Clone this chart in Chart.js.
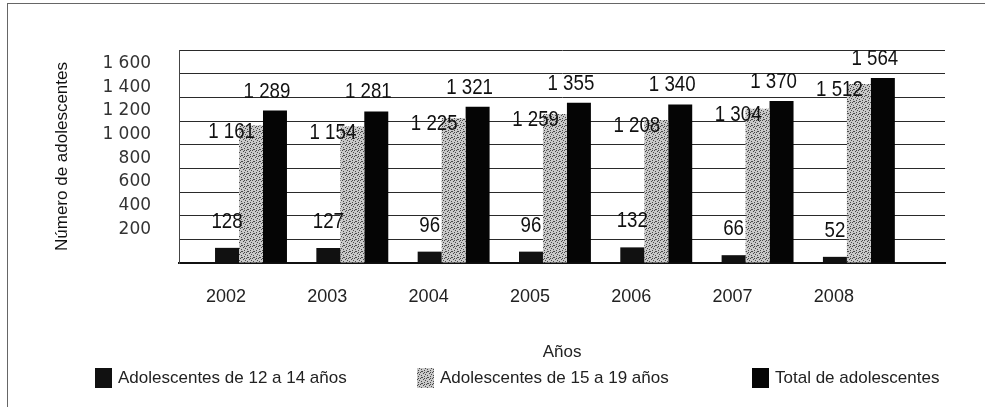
<!DOCTYPE html>
<html>
<head>
<meta charset="utf-8">
<script src="https://cdn.jsdelivr.net/npm/chart.js@4.4.1/dist/chart.umd.min.js"></script>
<style>
  html, body { margin: 0; padding: 0; background: #fff; }
  #marco { position: absolute; left: 7px; top: 3px; width: 978px; height: 404px; border-left: 1px solid #666; border-top: 1px solid #666; }
  #contenedor { position: absolute; left: 0; top: 0; width: 985px; height: 407px; }
</style>
</head>
<body>
<div id="marco"></div>
<div id="contenedor"><canvas id="grafico" width="985" height="407"></canvas></div>
<script>
const anios = [2002, 2003, 2004, 2005, 2006, 2007, 2008];
const adolescentes12a14 = [128, 127, 96, 96, 132, 66, 52];
const adolescentes15a19 = [1161, 1154, 1225, 1259, 1208, 1304, 1512];
const totalAdolescentes = [1289, 1281, 1321, 1355, 1340, 1370, 1564];
const marcasY = [200, 400, 600, 800, 1000, 1200, 1400, 1600];
const nombresSeries = ['Adolescentes de 12 a 14 años', 'Adolescentes de 15 a 19 años', 'Total de adolescentes'];

const fuente = '"Liberation Sans", Arial, sans-serif';

function formatoMiles(v) {
    if (v >= 1000) return Math.floor(v / 1000) + ' ' + String(v % 1000).padStart(3, '0');
    return String(v);
}

document.addEventListener('DOMContentLoaded', () => {
    const ctx = document.getElementById('grafico').getContext('2d');

    // textura punteada para la serie de 15 a 19 años
    const tela = document.createElement('canvas');
    tela.width = 6; tela.height = 6;
    const t = tela.getContext('2d');
    t.fillStyle = '#c9c9c9';
    t.fillRect(0, 0, 6, 6);
    t.fillStyle = '#4a4a4a';
    [[0, 0], [3, 1], [1, 3], [4, 4], [2, 5], [5, 2], [4, 0], [1, 5]].forEach(([x, y]) => t.fillRect(x, y, 1, 1));
    const punteado = ctx.createPattern(tela, 'repeat');

    // texto estrecho: se comprime en horizontal
    function textoEstrecho(c, texto, x, y, alin) {
        const k = 0.85;
        c.save();
        c.translate(x, y);
        c.scale(k, 1);
        c.textAlign = alin;
        c.fillText(texto, 0, 0);
        c.restore();
    }

    const etiquetas = {
        id: 'etiquetas',
        afterDatasetsDraw(chart) {
            const c = chart.ctx;
            c.save();
            c.font = '22px ' + fuente;
            c.fillStyle = '#111';
            c.textBaseline = 'middle';
            chart.data.datasets.forEach((ds, i) => {
                chart.getDatasetMeta(i).data.forEach((barra, j) => {
                    const texto = formatoMiles(ds.data[j]);
                    if (i === 0) {
                        textoEstrecho(c, texto, barra.x, barra.y - 26, 'center');
                    } else if (i === 1) {
                        textoEstrecho(c, texto, barra.x + 4, barra.y + 6, 'right');
                    } else {
                        textoEstrecho(c, texto, barra.x - 8, barra.y - 19, 'center');
                    }
                });
            });
            c.restore();
        }
    };

    const leyenda = {
        id: 'leyenda',
        afterDraw(chart) {
            const c = chart.ctx;
            const xs = [95, 417, 752];
            c.save();
            c.font = '17px ' + fuente;
            c.textBaseline = 'middle';
            c.textAlign = 'left';
            chart.data.datasets.forEach((ds, i) => {
                c.fillStyle = ds.backgroundColor;
                c.fillRect(xs[i], 368, 17, 20);
                c.fillStyle = '#222';
                c.fillText(ds.label, xs[i] + 23, 378);
            });
            c.restore();
        }
    };

    new Chart(ctx, {
        type: 'bar',
        data: {
            labels: anios,
            datasets: [
                { label: nombresSeries[0], data: adolescentes12a14, backgroundColor: '#111' },
                { label: nombresSeries[1], data: adolescentes15a19, backgroundColor: punteado },
                { label: nombresSeries[2], data: totalAdolescentes, backgroundColor: '#050505' }
            ]
        },
        options: {
            responsive: false,
            animation: false,
            devicePixelRatio: 1,
            datasets: {
                bar: { barPercentage: 1, categoryPercentage: 0.71, borderWidth: 0 }
            },
            layout: { padding: { left: 8, right: 40, top: 50, bottom: 10 } },
            scales: {
                x: {
                    type: 'linear',
                    offset: false,
                    min: 2001.29,
                    max: 2008.85,
                    grid: { display: false },
                    border: { display: true, color: '#111', width: 2 },
                    ticks: {
                        stepSize: 1,
                        includeBounds: false,
                        autoSkip: false,
                        padding: 15,
                        labelOffset: -25,
                        color: '#222',
                        font: { family: fuente, size: 18 },
                        callback: v => Number.isInteger(v) ? String(v) : ''
                    },
                    title: {
                        display: true,
                        text: 'Años',
                        color: '#222',
                        font: { family: fuente, size: 17 },
                        padding: { top: 20, bottom: 34 }
                    }
                },
                y: {
                    min: 0,
                    max: 1800,
                    grid: { color: '#2a2a2a', lineWidth: 1, drawTicks: false },
                    border: { display: true, color: '#444', width: 1 },
                    ticks: {
                        stepSize: 200,
                        autoSkip: false,
                        padding: 28,
                        labelOffset: -10,
                        color: '#333',
                        font: { family: '"DejaVu Sans", sans-serif', size: 17 },
                        callback: v => marcasY.includes(v) ? formatoMiles(v) : ''
                    },
                    title: {
                        display: true,
                        text: 'Número de adolescentes',
                        color: '#111',
                        font: { family: fuente, size: 17 },
                        padding: { top: 44, bottom: 2 }
                    }
                }
            },
            plugins: {
                legend: { display: false },
                tooltip: { enabled: false }
            }
        },
        plugins: [etiquetas, leyenda]
    });
});
</script>
</body>
</html>
